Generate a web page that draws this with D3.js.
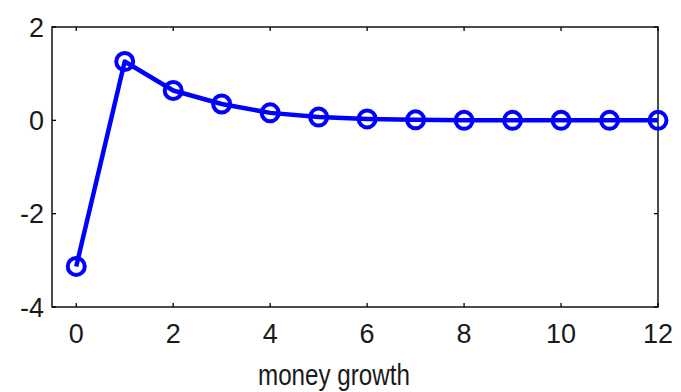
<!DOCTYPE html>
<html><head><meta charset="utf-8">
<script src="https://cdn.jsdelivr.net/npm/d3@7"></script>
<style>body{margin:0;background:#fff}svg{display:block}text{font-family:"Liberation Sans",Arial,sans-serif;fill:#1a1a1a}</style>
</head><body><svg id="c" width="681" height="392"></svg>
<script>
const periods = [0,1,2,3,4,5,6,7,8,9,10,11,12];
const response = [-3.13,1.26,0.64,0.35,0.16,0.07,0.03,0.01,0.0,0.0,0.0,0.0,0.0];
const xTicks = [0,2,4,6,8,10,12];
const yTicks = [-4,-2,0,2];
const xLabel = "money growth";

const L=52,R=658,T=27,B=307;
const svg=d3.select("#c");
const x=d3.scaleLinear().domain([-0.5,12]).range([L,R]);
const y=d3.scaleLinear().domain([-4,2]).range([B,T]);
const tl=4;
const g=svg.append("g");
g.append("rect").attr("x",L).attr("y",T).attr("width",R-L).attr("height",B-T)
 .attr("fill","none").attr("stroke","#000").attr("stroke-width",1.4);
xTicks.forEach(v=>{
  g.append("line").attr("x1",x(v)).attr("x2",x(v)).attr("y1",B).attr("y2",B-tl).attr("stroke","#000").attr("stroke-width",1.3);
  g.append("line").attr("x1",x(v)).attr("x2",x(v)).attr("y1",T).attr("y2",T+tl).attr("stroke","#000").attr("stroke-width",1.3);
  g.append("text").attr("x",x(v)).attr("y",B+36).attr("text-anchor","middle").attr("font-size",27).text(v);
});
yTicks.forEach(v=>{
  g.append("line").attr("y1",y(v)).attr("y2",y(v)).attr("x1",L).attr("x2",L+tl).attr("stroke","#000").attr("stroke-width",1.3);
  g.append("line").attr("y1",y(v)).attr("y2",y(v)).attr("x1",R).attr("x2",R-tl).attr("stroke","#000").attr("stroke-width",1.3);
  g.append("text").attr("x",L-8).attr("y",y(v)).attr("dy","0.36em").attr("text-anchor","end").attr("font-size",27).text(v<0?"-"+Math.abs(v):v);
});
const data=periods.map((p,i)=>({p,v:response[i]}));
g.append("path").datum(data).attr("fill","none").attr("stroke","#0000ff").attr("stroke-width",4.5).attr("stroke-linejoin","round")
 .attr("d",d3.line().x(d=>x(d.p)).y(d=>y(d.v)));
g.selectAll("circle.m").data(data).join("circle").attr("class","m").attr("cx",d=>x(d.p)).attr("cy",d=>y(d.v)).attr("r",8.5)
 .attr("fill","none").attr("stroke","#0000ff").attr("stroke-width",4);
svg.append("text").attr("x",334).attr("y",385).attr("text-anchor","middle").attr("font-size",29)
 .attr("textLength",152).attr("lengthAdjust","spacingAndGlyphs").text(xLabel);
</script></body></html>
